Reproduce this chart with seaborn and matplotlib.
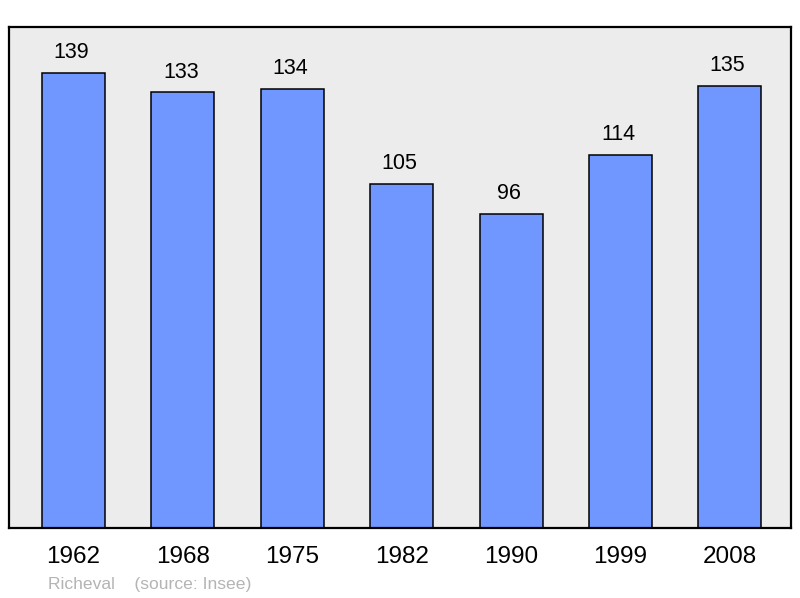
import seaborn as sns
import matplotlib.pyplot as plt
import pandas as pd

# Population data
years = ['1962', '1968', '1975', '1982', '1990', '1999', '2008']
population = [139, 133, 134, 105, 96, 114, 135]

df = pd.DataFrame({'year': years, 'pop': population})

sns.set_style('white')
plt.rcParams['font.family'] = ['Liberation Sans', 'DejaVu Sans']
plt.rcParams['text.color'] = 'black'
plt.rcParams['xtick.color'] = 'black'

fig = plt.figure(figsize=(8, 5.98), dpi=100)
ax = fig.add_axes([9 / 800, 70 / 598, 782 / 800, 501 / 598])
ax.set_facecolor('#ececec')

sns.barplot(data=df, x='year', y='pop', color='#7097ff', saturation=1,
            width=0.576, edgecolor='black', linewidth=1.1, ax=ax)

ax.set_xlim(-0.59, 6.56)
ax.set_ylim(0, 153)
ax.set_yticks([])
ax.set_xlabel('')
ax.set_ylabel('')
ax.tick_params(axis='x', length=0, labelsize=17.5, pad=13, labelcolor='black')
for s in ax.spines.values():
    s.set_linewidth(1.6)
    s.set_color('black')

# Value labels above bars
for i, v in enumerate(population):
    ax.text(i - 0.02, v + 6.2, str(v), ha='center', va='center', fontsize=15.5,
            color='black')

fig.text(48 / 800, 1 - 584 / 598, 'Richeval    (source: Insee)', color='#b4b4b4',
         fontsize=12.6, va='center', ha='left')

plt.savefig('out.png', dpi=100)
